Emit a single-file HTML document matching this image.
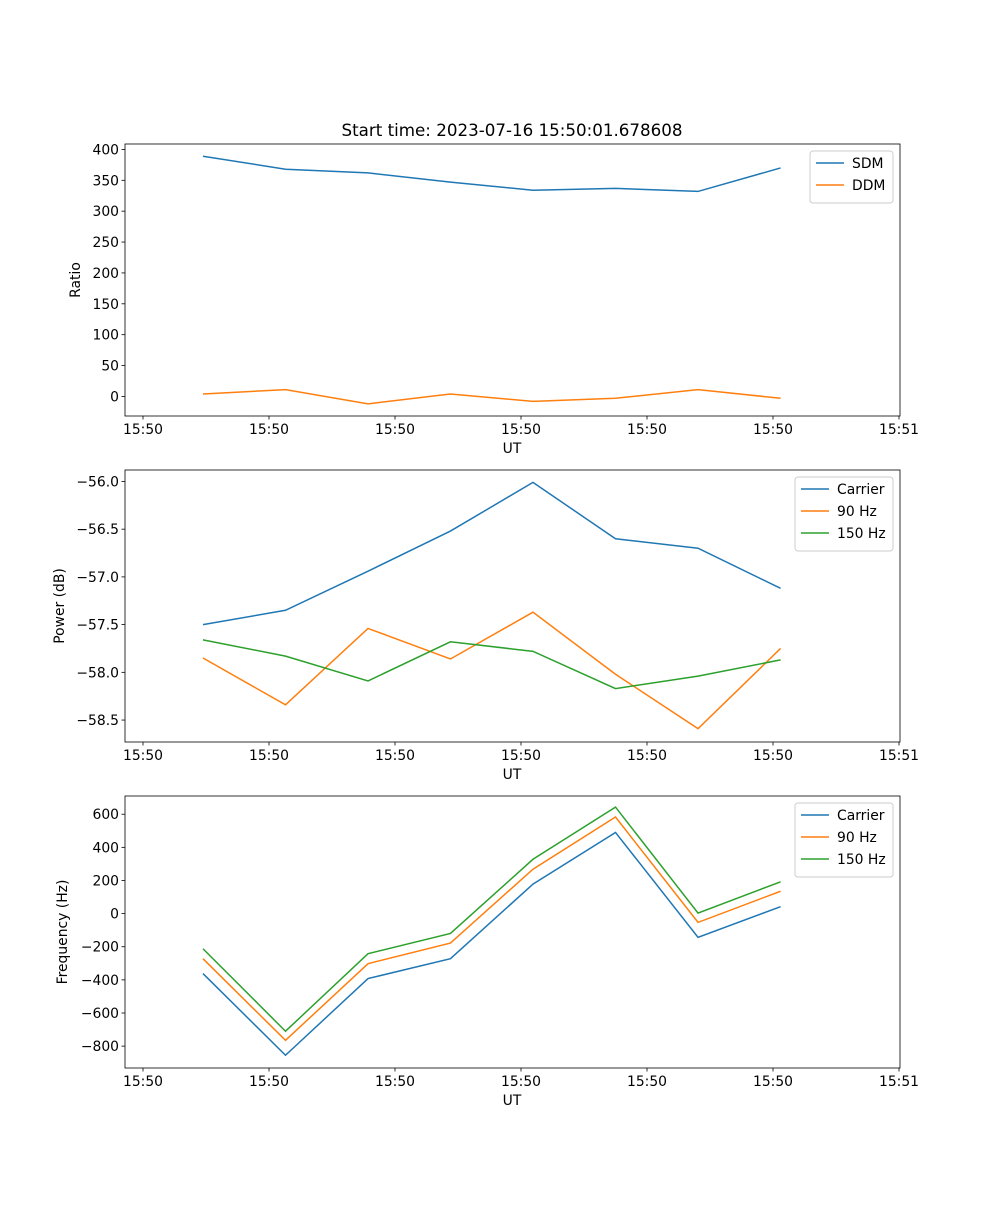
<!DOCTYPE html>
<html><head><meta charset="utf-8"><style>
html,body{margin:0;padding:0;background:#fff}
svg text{font-family:"DejaVu Sans","Liberation Sans",sans-serif;fill:#000}
</style></head><body>
<svg id="fig" width="1000" height="1200" xmlns="http://www.w3.org/2000/svg">
<rect width="1000" height="1200" fill="#fff"/>
<text x="512" y="136" font-size="16.7" text-anchor="middle">Start time: 2023-07-16 15:50:01.678608</text>
</svg>
<script>
const xTickLabels = ["15:50","15:50","15:50","15:50","15:50","15:50","15:51"];
const xTickPos = [0,1,2,3,4,5,6];
const times = [0.476,1.131,1.786,2.44,3.095,3.75,4.405,5.06];
const sdm = [389,368,362,347,334,337,332,370];
const ddm = [4,11,-12,4,-8,-3,11,-3];
const pwrCarrier = [-57.5,-57.35,-56.94,-56.52,-56.01,-56.6,-56.7,-57.12];
const pwr90 = [-57.85,-58.34,-57.54,-57.86,-57.37,-58.02,-58.59,-57.75];
const pwr150 = [-57.66,-57.83,-58.09,-57.68,-57.78,-58.17,-58.04,-57.87];
const frqCarrier = [-362,-855,-392,-272,178,490,-143,42];
const frq90 = [-272,-765,-302,-178,268,583,-53,135];
const frq150 = [-212,-710,-242,-120,328,643,3,192];
const ticks1 = [0,50,100,150,200,250,300,350,400];
const ticks2 = [-58.5,-58.0,-57.5,-57.0,-56.5,-56.0];
const ticks3 = [-800,-600,-400,-200,0,200,400,600];
const NS="http://www.w3.org/2000/svg";
const svg=document.getElementById('fig');
function mk(tag,attrs,parent){const e=document.createElementNS(NS,tag);for(const k in attrs)e.setAttribute(k,attrs[k]);(parent||svg).appendChild(e);return e;}
const L=125,R=900;
const xs=v=>143+v*126;
function panel(key,top,bot,ymin,ymax,ticks,fmt,ylabel,series,legend){
  const g=mk('g',{});
  
  
  const ys=v=>bot-(v-ymin)/(ymax-ymin)*(bot-top);
  series.forEach(s=>{
    const p=mk('polyline',{points:s.d.map((v,i)=>xs(times[i])+','+ys(v)).join(' '),fill:'none',stroke:s.c,'stroke-width':1.5},g);
    
    
  });
  mk('rect',{x:L,y:top,width:R-L,height:bot-top,fill:'none',stroke:'#000','stroke-width':0.8},g);
  xTickPos.forEach((t,i)=>{const x=xs(t);mk('line',{x1:x,x2:x,y1:bot,y2:bot+3.5,stroke:'#000','stroke-width':0.8},g);
    const tx=mk('text',{x:x,y:bot+18,'font-size':13.9,'text-anchor':'middle'},g);tx.textContent=xTickLabels[i];
    
    });
  ticks.forEach(t=>{const y=ys(t);mk('line',{x1:L-3.5,x2:L,y1:y,y2:y,stroke:'#000','stroke-width':0.8},g);
    const tx=mk('text',{x:L-6,y:y+5,'font-size':13.9,'text-anchor':'end'},g);tx.textContent=fmt(t);
    
    });
  const xl=mk('text',{x:512,y:bot+37,'font-size':13.9,'text-anchor':'middle'},g);xl.textContent='UT';
  
  
  const cy=(top+bot)/2;
  const yl=mk('text',{x:0,y:0,'font-size':13.9,'text-anchor':'middle',transform:'translate('+legend.yx+','+cy+') rotate(-90)'},g);yl.textContent=ylabel;
  
  
  const lg=mk('g',{},g);
  
  
  const h=series.length*22+8;
  mk('rect',{x:legend.x,y:top+7,width:R-7-legend.x,height:h,fill:'#fff',stroke:'#ccc','stroke-width':1,rx:3},lg);
  series.forEach((s,i)=>{const y=top+19+i*22;
    mk('line',{x1:legend.x+6,x2:legend.x+34,y1:y,y2:y,stroke:s.c,'stroke-width':1.5},lg);
    const t=mk('text',{x:legend.x+42,y:y+5,'font-size':13.9},lg);t.textContent=s.n;
    
    });
}
const B='#1f77b4',O='#ff7f0e',G='#2ca02c';
panel('ratio',144,416,-31.7,408.8,ticks1,t=>String(t),'Ratio',[{n:'SDM',d:sdm,c:B},{n:'DDM',d:ddm,c:O}],{x:810,yx:80});
panel('power',470,742,-58.73,-55.88,ticks2,t=>t.toFixed(1).replace('-','\u2212'),'Power (dB)',[{n:'Carrier',d:pwrCarrier,c:B},{n:'90 Hz',d:pwr90,c:O},{n:'150 Hz',d:pwr150,c:G}],{x:795,yx:64});
panel('freq',796,1068,-932,710,ticks3,t=>String(t).replace('-','\u2212'),'Frequency (Hz)',[{n:'Carrier',d:frqCarrier,c:B},{n:'90 Hz',d:frq90,c:O},{n:'150 Hz',d:frq150,c:G}],{x:795,yx:67});
</script>
</body></html>
